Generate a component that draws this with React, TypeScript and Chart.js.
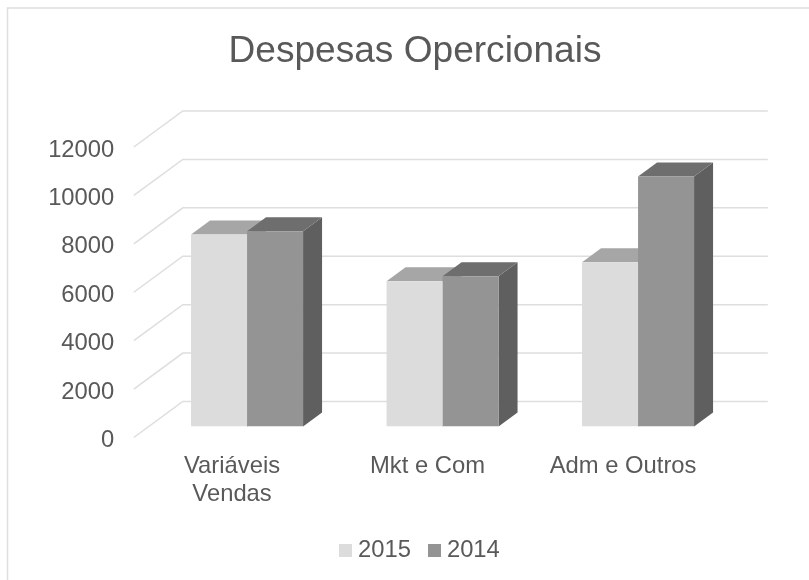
import React, { useEffect, useRef } from "react";
import { Chart, registerables } from "chart.js";

Chart.register(...registerables);

const categories = [["Variáveis", "Vendas"], "Mkt e Com", "Adm e Outros"];
const seriesNames = ["2015", "2014"];
const values2015 = [7930, 6000, 6790];
const values2014 = [8070, 6210, 10330];
const yTicks = { min: 0, max: 12000, stepSize: 2000 };
const frontColors = ["#dcdcdc", "#949494"];
const topColors = ["#a6a6a6", "#6e6e6e"];
const sideColors = ["#8f8f8f", "#5f5f5f"];

const TEXT = "#595959";
const GRID = "#dedede";
const FONT = "Liberation Sans";
const FONT_SIZE = 23.8;
const DEPTH_X = 19;
const DEPTH_Y = 14;

function swatch(color: string) {
  const c = document.createElement("canvas");
  c.width = 13;
  c.height = 13;
  const g = c.getContext("2d")!;
  g.fillStyle = color;
  g.fillRect(0, 0, 13, 13);
  return c;
}

const frame3d = {
  id: "frame3d",
  afterLayout(chart: any) {
    chart.legend.left += 7.5;
    chart.legend.right += 7.5;
    chart.legend.top -= 7.2;
    chart.legend.bottom -= 7.2;
    chart.scales.y.left = 0;
  },
  beforeDraw(chart: any) {
    const { ctx, width, height } = chart;
    ctx.save();
    ctx.fillStyle = "#ffffff";
    ctx.fillRect(0, 0, width, height);
    ctx.strokeStyle = GRID;
    ctx.lineWidth = 1.5;
    ctx.beginPath();
    ctx.moveTo(7.5, height);
    ctx.lineTo(7.5, 8);
    ctx.lineTo(width, 8);
    ctx.stroke();
    ctx.restore();
  },
  beforeDatasetsDraw(chart: any) {
    const { ctx, chartArea, scales } = chart;
    ctx.save();
    ctx.strokeStyle = GRID;
    ctx.lineWidth = 1.5;
    for (const t of scales.y.ticks) {
      const p = scales.y.getPixelForValue(t.value);
      ctx.beginPath();
      ctx.moveTo(chartArea.left - 15.5, p + 11);
      ctx.lineTo(chartArea.left + 33.5, p - 25);
      ctx.lineTo(chartArea.right + 32, p - 25);
      ctx.stroke();
    }
    chart.data.datasets.forEach((_: any, i: number) => {
      for (const el of chart.getDatasetMeta(i).data) {
        const { x, y, base, width } = el.getProps(["x", "y", "base", "width"], true);
        const l = x - width / 2;
        const r = x + width / 2;
        ctx.fillStyle = sideColors[i];
        ctx.beginPath();
        ctx.moveTo(r, y);
        ctx.lineTo(r + DEPTH_X, y - DEPTH_Y);
        ctx.lineTo(r + DEPTH_X, base - DEPTH_Y);
        ctx.lineTo(r, base);
        ctx.closePath();
        ctx.fill();
        ctx.fillStyle = topColors[i];
        ctx.beginPath();
        ctx.moveTo(l, y);
        ctx.lineTo(l + DEPTH_X, y - DEPTH_Y);
        ctx.lineTo(r + DEPTH_X, y - DEPTH_Y);
        ctx.lineTo(r, y);
        ctx.closePath();
        ctx.fill();
      }
    });
    ctx.restore();
  },
};

export default function App() {
  const ref = useRef<HTMLCanvasElement>(null);
  useEffect(() => {
    const chart = new Chart(ref.current!, {
      type: "bar",
      data: {
        labels: categories as any,
        datasets: [
          { label: seriesNames[0], data: values2015, backgroundColor: frontColors[0] },
          { label: seriesNames[1], data: values2014, backgroundColor: frontColors[1] },
        ],
      },
      plugins: [frame3d as any],
      options: {
        animation: false,
        responsive: false,
        layout: { padding: { left: 94.2, right: 73.2, top: 0, bottom: 0 } },
        datasets: { bar: { barPercentage: 1, categoryPercentage: 0.573 } },
        plugins: {
          title: {
            display: true,
            text: "Despesas Opercionais",
            color: TEXT,
            font: { family: FONT, size: 37.1, weight: "normal" },
            padding: { top: 29.5, bottom: 62 },
          },
          legend: {
            position: "bottom",
            labels: {
              color: TEXT,
              font: { family: FONT, size: FONT_SIZE },
              usePointStyle: true,
              boxWidth: 1,
              padding: 23,
              generateLabels: (c: any) =>
                c.data.datasets.map((d: any, i: number) => ({
                  text: d.label,
                  pointStyle: swatch(frontColors[i]),
                  fontColor: TEXT,
                  datasetIndex: i,
                  hidden: false,
                  lineWidth: 0,
                })),
            },
          },
        },
        scales: {
          x: {
            grid: { display: false, drawTicks: false },
            border: { display: false },
            ticks: {
              color: TEXT,
              font: { family: FONT, size: FONT_SIZE, lineHeight: 1.18 },
              padding: 26,
              labelOffset: -15,
              maxRotation: 0,
              autoSkip: false,
            },
            afterFit: (s: any) => {
              s.height = 96.7;
            },
          },
          y: {
            ...yTicks,
            grid: { display: false, drawTicks: false },
            border: { display: false },
            ticks: {
              color: TEXT,
              font: { family: FONT, size: FONT_SIZE },
              padding: 35,
              stepSize: yTicks.stepSize,
              labelOffset: 14,
              callback: (v: any) => String(v),
            },
            afterFit: (s: any) => {
              s.width = 55.1;
            },
          },
        },
      },
    } as any);
    return () => chart.destroy();
  }, []);
  return (
    <div style={{ position: "absolute", left: 0, top: 0, width: 809, height: 580, background: "#fff" }}>
      <canvas ref={ref} width={809} height={580} style={{ display: "block" }} />
    </div>
  );
}
